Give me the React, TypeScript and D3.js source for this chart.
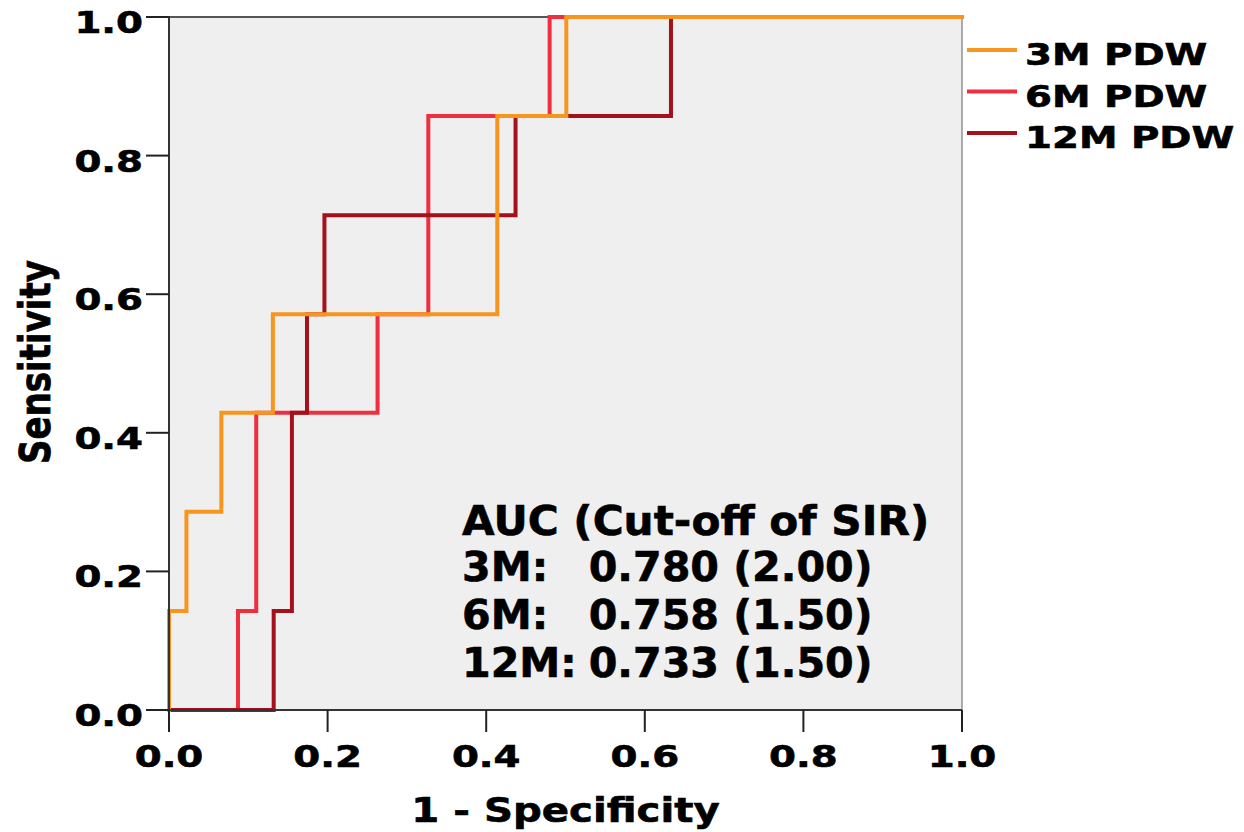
import React from 'react';
import * as d3 from 'd3';

// ROC step points (1 - specificity, sensitivity)
const fpr3M = [0, 0, 0.022, 0.066, 0.131, 0.414, 0.501, 1];
const tpr3M = [0, 0.143, 0.286, 0.429, 0.571, 0.857, 1, 1];

const fpr6M = [0, 0.087, 0.110, 0.263, 0.327, 0.480, 1];
const tpr6M = [0, 0.143, 0.429, 0.571, 0.857, 1, 1];

const fpr12M = [0, 0.132, 0.155, 0.174, 0.196, 0.437, 0.633, 1];
const tpr12M = [0, 0.143, 0.429, 0.571, 0.714, 0.857, 1, 1];

const seriesNames = ['3M PDW', '6M PDW', '12M PDW'];
const seriesColors = ['#f7961e', '#ee2f3e', '#a3121c'];

const ticks = [0, 0.2, 0.4, 0.6, 0.8, 1.0];

const aucLabels = ['3M:', '6M:', '12M:'];
const aucValues = ['0.780 (2.00)', '0.758 (1.50)', '0.733 (1.50)'];

const FONT = '"DejaVu Sans", Verdana, sans-serif';
const SX = 1.25; // source text is stretched horizontally

const App = () => {
  const left = 169, right = 962, top = 17, bottom = 710;
  const x = d3.scaleLinear().domain([0, 1]).range([left, right]);
  const y = d3.scaleLinear().domain([0, 1]).range([bottom, top]);

  const line = d3.line<[number, number]>()
    .x(d => x(d[0]))
    .y(d => y(d[1]))
    .curve(d3.curveStepAfter);

  const curves = [
    { name: seriesNames[1], color: seriesColors[1], pts: fpr6M.map((v, i) => [v, tpr6M[i]] as [number, number]) },
    { name: seriesNames[2], color: seriesColors[2], pts: fpr12M.map((v, i) => [v, tpr12M[i]] as [number, number]) },
    { name: seriesNames[0], color: seriesColors[0], pts: fpr3M.map((v, i) => [v, tpr3M[i]] as [number, number]) },
  ];

  const bold = { stroke: '#000', strokeWidth: 0.6 };

  return (
    <svg width={1244} height={832} style={{ position: 'absolute', left: 0, top: 0 }}
      fontFamily={FONT} fontWeight="bold">
      <rect x={left} y={top} width={right - left} height={bottom - top} fill="#efefef" />
      {/* frame */}
      <line x1={left} x2={right} y1={top} y2={top} stroke="#555" strokeWidth={2} />
      <line x1={right} x2={right} y1={top} y2={bottom} stroke="#777" strokeWidth={1.2} />

      {curves.map(c => (
        <path key={c.name} d={line(c.pts) || ''} fill="none" stroke={c.color}
          strokeWidth={4} strokeLinejoin="miter" strokeLinecap="square" />
      ))}

      {/* axes */}
      <line x1={left} x2={left} y1={top - 1} y2={bottom} stroke="#333" strokeWidth={2} />
      <line x1={left} x2={right} y1={bottom} y2={bottom} stroke="#333" strokeWidth={2} />
      {ticks.map(t => (
        <g key={'y' + t}>
          <line x1={left - 23} x2={left} y1={y(t)} y2={y(t)} stroke="#222" strokeWidth={2} />
          <g transform={`translate(${left - 26},${y(t) + 16}) scale(${SX},1)`}>
            <text textAnchor="end" fontSize={31} {...bold}>{t.toFixed(1)}</text>
          </g>
        </g>
      ))}
      {ticks.map(t => (
        <g key={'x' + t}>
          <line x1={x(t)} x2={x(t)} y1={bottom} y2={bottom + 22} stroke="#222" strokeWidth={2} />
          <g transform={`translate(${x(t)},${767}) scale(${SX},1)`}>
            <text textAnchor="middle" fontSize={31} {...bold}>{t.toFixed(1)}</text>
          </g>
        </g>
      ))}

      {/* axis titles */}
      <g transform={`translate(${(left + right) / 2},822) scale(1.22,1)`}>
        <text textAnchor="middle" fontSize={33} {...bold}>1 - Specificity</text>
      </g>
      <g transform={`translate(50,362) rotate(-90) scale(1,1.27)`}>
        <text textAnchor="middle" fontSize={34} {...bold}>Sensitivity</text>
      </g>

      {/* legend */}
      {seriesNames.map((n, i) => (
        <g key={n}>
          <line x1={967} x2={1017} y1={50 + i * 41.5} y2={50 + i * 41.5} stroke={seriesColors[i]} strokeWidth={4} />
          <g transform={`translate(1025,${65 + i * 41.5}) scale(${SX},1)`}>
            <text fontSize={31} {...bold}>{n}</text>
          </g>
        </g>
      ))}

      {/* AUC annotation */}
      <g transform="translate(462,0) scale(1.03,1)">
        <text x={0} y={535} fontSize={41} {...bold}>AUC (Cut-off of SIR)</text>
        {aucLabels.map((l, i) => (
          <g key={l}>
            <text x={0} y={581 + i * 48} fontSize={40} {...bold}>{l}</text>
            <text x={123} y={581 + i * 48} fontSize={40} {...bold}>{aucValues[i]}</text>
          </g>
        ))}
      </g>
    </svg>
  );
};

export default App;
